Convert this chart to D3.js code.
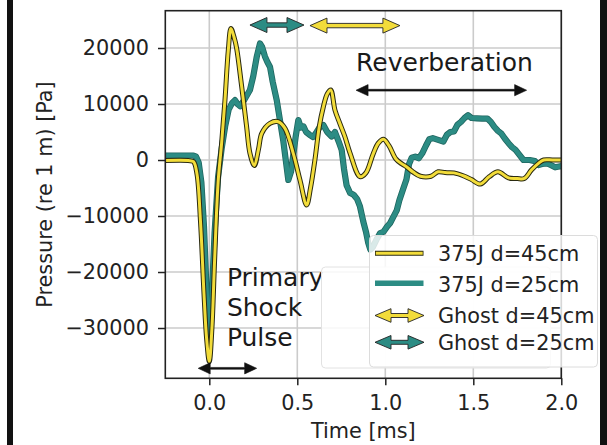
<!DOCTYPE html>
<html>
<head>
<meta charset="utf-8">
<script src="https://cdn.jsdelivr.net/npm/d3@7"></script>
<style>
  html, body { margin: 0; padding: 0; background: #fff; }
  svg { display: block; font-family: "DejaVu Sans", sans-serif; }
</style>
</head>
<body>
<div id="chart"></div>
<script>
// pressure traces, [time ms, pressure Pa]
const trace45 = [
  [-0.25, -100], [-0.12, -100], [-0.09, -300], [-0.07, -2500], [-0.05, -11000],
  [-0.03, -24000], [-0.015, -32000], [0.0, -36000], [0.015, -30000], [0.03, -18000],
  [0.05, -4000], [0.07, 3000], [0.089, 10700], [0.108, 19600], [0.123, 23500],
  [0.14, 22000], [0.155, 20000], [0.184, 13100], [0.212, 5950], [0.231, 1190],
  [0.256, -1000], [0.28, 2000], [0.298, 4760], [0.345, 6550], [0.392, 6840],
  [0.43, 5650], [0.477, 1190], [0.515, -3570], [0.553, -8040], [0.575, -5000],
  [0.6, 0], [0.625, 6000], [0.648, 9500], [0.67, 11800], [0.69, 12500],
  [0.714, 8900], [0.742, 6500], [0.77, 4200], [0.8, 1200], [0.856, -2980],
  [0.89, -2300], [0.93, 1000], [0.96, 3000], [0.99, 3700], [1.02, 2600],
  [1.06, 200], [1.09, -600], [1.12, -1200], [1.16, -2200], [1.2, -2900],
  [1.26, -2900], [1.3, -2100], [1.34, -2250], [1.39, -2300], [1.45, -2900],
  [1.49, -3500], [1.54, -4300], [1.59, -3000], [1.64, -2100], [1.7, -3200],
  [1.75, -3300], [1.79, -3300], [1.83, -1800], [1.87, -600], [1.9, 0],
  [1.95, 0], [2.0, 0]
];

const trace25 = [
  [-0.25, 800], [-0.09, 800], [-0.075, 600], [-0.06, -500], [-0.045, -4000],
  [-0.03, -12000], [-0.015, -24000], [0.0, -32500], [0.015, -24000], [0.03, -13000],
  [0.05, -3000], [0.07, 2000], [0.09, 6000], [0.11, 9000], [0.13, 10200],
  [0.146, 10700], [0.16, 10000], [0.175, 9600], [0.2, 10800], [0.231, 12500],
  [0.25, 15000], [0.27, 18500], [0.288, 20800], [0.3, 20200], [0.316, 18500],
  [0.33, 17500], [0.345, 16600], [0.36, 14000], [0.383, 10700], [0.42, 3500],
  [0.449, -3570], [0.465, -2000], [0.49, 4000], [0.506, 7140], [0.52, 5800],
  [0.535, 6000], [0.55, 5000], [0.57, 4500], [0.59, 4100], [0.61, 5000],
  [0.63, 6000], [0.648, 6250], [0.67, 5000], [0.695, 4200], [0.714, 5000],
  [0.735, 3300], [0.752, 1800], [0.765, -1500], [0.78, -4500], [0.8, -5900],
  [0.82, -6200], [0.84, -7000], [0.856, -8300], [0.875, -11000], [0.89, -12800],
  [0.903, -14800], [0.915, -16000], [0.93, -15500], [0.95, -14200], [0.97, -13100],
  [0.99, -12800], [1.01, -11900], [1.027, -11300], [1.045, -10200], [1.065, -9000],
  [1.08, -7200], [1.1, -5300], [1.12, -3500], [1.135, -700], [1.15, 400],
  [1.17, 600], [1.19, 300], [1.21, 1200], [1.23, 2500], [1.25, 3700],
  [1.27, 3900], [1.3, 3600], [1.33, 3300], [1.35, 4500], [1.37, 5000],
  [1.39, 5100], [1.41, 6300], [1.43, 6800], [1.45, 7500], [1.47, 8000],
  [1.49, 7500], [1.52, 7450], [1.55, 7400], [1.58, 7400], [1.6, 6800],
  [1.62, 5900], [1.64, 5200], [1.66, 4700], [1.68, 3800], [1.7, 3000],
  [1.72, 2300], [1.74, 1800], [1.76, 1000], [1.785, 0], [1.82, 0],
  [1.85, -200], [1.87, -900], [1.89, -700], [1.92, -600], [1.94, -900],
  [1.965, -1300], [1.98, -1200], [2.0, -1100]
];

const xTicks = [0, 0.5, 1.0, 1.5, 2.0];
const yTicks = [20000, 10000, 0, -10000, -20000, -30000];
const legendLabels = ["375J d=45cm", "375J d=25cm", "Ghost d=45cm", "Ghost d=25cm"];

// arrow spans [t0, t1, pressure]
const ghost25 = [0.231, 0.538, 24100];
const ghost45 = [0.572, 1.083, 24000];
const reverbSpan = [0.834, 1.803, 12460];
const primarySpan = [-0.063, 0.269, -37200];

const yellow = "#f2dc3a";
const teal = "#2c8c84";

const W = 607, H = 445;
const box = { left: 165.3, right: 561.3, top: 10.7, bottom: 378.3 };

const x = d3.scaleLinear().domain([-0.25, 2.0]).range([box.left, box.right]);
const y = d3.scaleLinear().domain([-38980, 26660]).range([box.bottom, box.top]);

const svg = d3.select("#chart").append("svg")
  .attr("width", W).attr("height", H);

svg.append("rect").attr("width", W).attr("height", H).attr("fill", "#fff");

svg.append("clipPath").attr("id", "clip")
  .append("rect")
  .attr("x", box.left).attr("y", box.top)
  .attr("width", box.right - box.left).attr("height", box.bottom - box.top);

// grid
const grid = svg.append("g").attr("stroke", "#cbcbcb").attr("stroke-width", 1.6);
grid.selectAll(".gx").data(xTicks).enter().append("line")
  .attr("x1", d => x(d)).attr("x2", d => x(d))
  .attr("y1", box.top).attr("y2", box.bottom);
grid.selectAll(".gy").data(yTicks).enter().append("line")
  .attr("x1", box.left).attr("x2", box.right)
  .attr("y1", d => y(d)).attr("y2", d => y(d));

// traces
const plot = svg.append("g").attr("clip-path", "url(#clip)");
const smooth = d3.line().x(d => x(d[0])).y(d => y(d[1])).curve(d3.curveCatmullRom.alpha(0.5));
const jagged = d3.line().x(d => x(d[0])).y(d => y(d[1]));

plot.append("path").attr("d", jagged(trace25))
  .attr("fill", "none").attr("stroke", "#1f6660").attr("stroke-width", 6.2)
  .attr("stroke-linejoin", "round");
plot.append("path").attr("d", jagged(trace25))
  .attr("fill", "none").attr("stroke", teal).attr("stroke-width", 4.6)
  .attr("stroke-linejoin", "round");

plot.append("path").attr("d", smooth(trace45))
  .attr("fill", "none").attr("stroke", "#2a2a10").attr("stroke-width", 5)
  .attr("stroke-linejoin", "round");
plot.append("path").attr("d", smooth(trace45))
  .attr("fill", "none").attr("stroke", yellow).attr("stroke-width", 3)
  .attr("stroke-linejoin", "round");

// double-headed arrow outline
function arrowPoints(x1, x2, cy, hl, hh, sh) {
  return [
    [x1, cy], [x1 + hl, cy - hh], [x1 + hl, cy - sh], [x2 - hl, cy - sh],
    [x2 - hl, cy - hh], [x2, cy], [x2 - hl, cy + hh], [x2 - hl, cy + sh],
    [x1 + hl, cy + sh], [x1 + hl, cy + hh]
  ].map(p => p.join(",")).join(" ");
}

function ghostArrow(span, color) {
  svg.append("polygon")
    .attr("points", arrowPoints(x(span[0]), x(span[1]), y(span[2]), 17, 7.5, 2.2))
    .attr("fill", color).attr("stroke", "#222").attr("stroke-width", 0.9)
    .attr("stroke-linejoin", "miter");
}
ghostArrow(ghost25, teal);
ghostArrow(ghost45, yellow);

function blackArrow(span) {
  svg.append("polygon")
    .attr("points", arrowPoints(x(span[0]), x(span[1]), y(span[2]), 12, 5.6, 0.9))
    .attr("fill", "#111").attr("stroke", "#111").attr("stroke-width", 0.6);
}
blackArrow(reverbSpan);
blackArrow(primarySpan);

svg.append("text")
  .attr("x", x(reverbSpan[0])).attr("y", y(15890))
  .attr("font-size", 25).attr("fill", "#1a1a1a")
  .text("Reverberation");

const primary = svg.append("text")
  .attr("x", x(0.1)).attr("y", y(-22500))
  .attr("font-size", 25).attr("fill", "#1a1a1a");
["Primary", "Shock", "Pulse"].forEach((s, i) => {
  primary.append("tspan").attr("x", x(0.1)).attr("dy", i ? 29.8 : 0).text(s);
});

// axes
const xAxis = d3.axisBottom(x).tickValues(xTicks).tickSize(7).tickPadding(9.5)
  .tickFormat(d3.format(".1f"));
const yAxis = d3.axisLeft(y).tickValues(yTicks).tickSize(7.3).tickPadding(9)
  .tickFormat(d => d < 0 ? "\u2212" + Math.abs(d) : String(d));

const gx = svg.append("g").attr("transform", `translate(0,${box.bottom})`).call(xAxis);
const gy = svg.append("g").attr("transform", `translate(${box.left},0)`).call(yAxis);
[gx, gy].forEach(g => {
  g.select(".domain").remove();
  g.selectAll("line").attr("stroke", "#222").attr("stroke-width", 1.5);
  g.selectAll("text").attr("font-size", 20.8).attr("fill", "#222")
    .attr("font-family", "DejaVu Sans");
});

svg.append("rect")
  .attr("x", box.left).attr("y", box.top)
  .attr("width", box.right - box.left).attr("height", box.bottom - box.top)
  .attr("fill", "none").attr("stroke", "#222").attr("stroke-width", 1.6);

svg.append("text")
  .attr("x", (box.left + box.right) / 2).attr("y", 438)
  .attr("text-anchor", "middle").attr("font-size", 20.8).attr("fill", "#222")
  .text("Time [ms]");

svg.append("text")
  .attr("transform", `translate(51.5,${(box.top + box.bottom) / 2}) rotate(-90)`)
  .attr("text-anchor", "middle").attr("font-size", 20.8).attr("fill", "#222")
  .text("Pressure (re 1 m) [Pa]");

// legends: a faint empty frame behind the main one
svg.append("rect")
  .attr("x", 321.5).attr("y", 267).attr("width", 229).attr("height", 101)
  .attr("rx", 4).attr("fill", "#fff").attr("fill-opacity", 0.85)
  .attr("stroke", "#e2e2e2").attr("stroke-width", 1);

svg.append("rect")
  .attr("x", 369.5).attr("y", 235.5).attr("width", 228).attr("height", 131.5)
  .attr("rx", 4).attr("fill", "#fff").attr("fill-opacity", 0.82)
  .attr("stroke", "#dcdcdc").attr("stroke-width", 1);

const rowY = [253.3, 283.3, 315.5, 342.3];
const textY = [261, 291.5, 323, 350];
const lx0 = 375, lx1 = 423.5;

svg.append("line").attr("x1", lx0).attr("x2", lx1).attr("y1", rowY[0]).attr("y2", rowY[0])
  .attr("stroke", "#2a2a10").attr("stroke-width", 5);
svg.append("line").attr("x1", lx0 + 0.8).attr("x2", lx1 - 0.8).attr("y1", rowY[0]).attr("y2", rowY[0])
  .attr("stroke", yellow).attr("stroke-width", 3);
svg.append("line").attr("x1", lx0).attr("x2", lx1).attr("y1", rowY[1]).attr("y2", rowY[1])
  .attr("stroke", teal).attr("stroke-width", 5.5);

[[rowY[2], yellow], [rowY[3], teal]].forEach(([cy, c]) => {
  svg.append("polygon")
    .attr("points", arrowPoints(lx0, lx1 + 0.5, cy, 16, 6.8, 2))
    .attr("fill", c).attr("stroke", "#222").attr("stroke-width", 0.9);
});

svg.selectAll(".leg").data(legendLabels).enter().append("text")
  .attr("x", 438).attr("y", (d, i) => textY[i])
  .attr("font-size", 20.8).attr("fill", "#222")
  .text(d => d);

// dark side bars of the surrounding frame
svg.append("rect").attr("x", 7).attr("y", 0).attr("width", 6).attr("height", H).attr("fill", "#111");
svg.append("rect").attr("x", 600).attr("y", 0).attr("width", 7).attr("height", H).attr("fill", "#111");
</script>
</body>
</html>
